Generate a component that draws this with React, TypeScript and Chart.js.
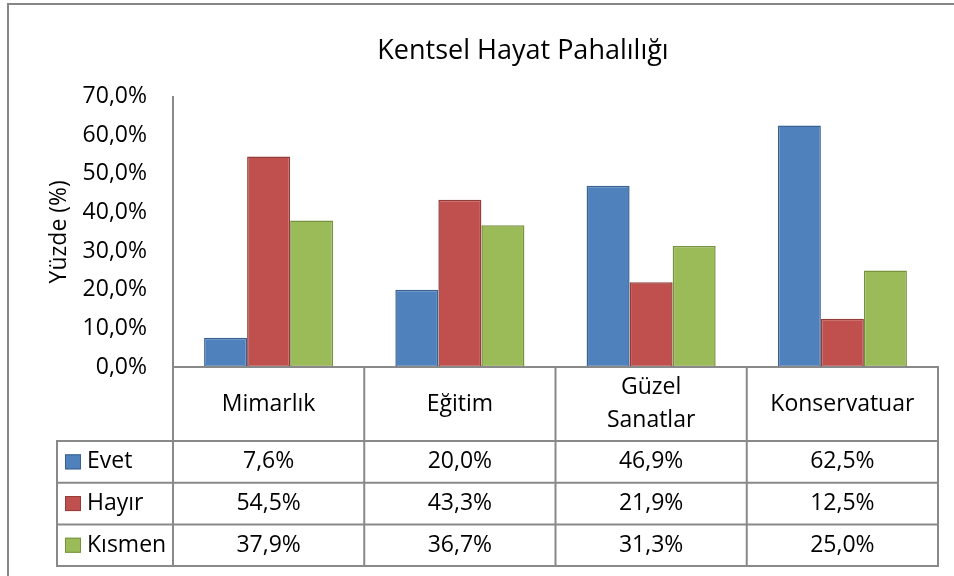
import React, { useEffect, useRef } from 'react';
import { Chart, registerables } from 'chart.js';

Chart.register(...registerables);

const chartTitle = 'Kentsel Hayat Pahalılığı';
const yAxisTitle = 'Yüzde (%)';
const categories = ['Mimarlık', 'Eğitim', 'Güzel Sanatlar', 'Konservatuar'];
const categoryHeaderLines = [['Mimarlık'], ['Eğitim'], ['Güzel', 'Sanatlar'], ['Konservatuar']];
const seriesNames = ['Evet', 'Hayır', 'Kısmen'];
const evetValues = [7.6, 20.0, 46.9, 62.5];
const hayirValues = [54.5, 43.3, 21.9, 12.5];
const kismenValues = [37.9, 36.7, 31.3, 25.0];
const yMin = 0;
const yMax = 70;
const yStep = 10;

const fills = ['#4F81BD', '#C0504D', '#9BBB59'];
const borders = ['#3A6290', '#943C3A', '#76923F'];
const FONT = "'Open Sans', 'DejaVu Sans', sans-serif";
const GRAY = '#898989';

const fmt = (v: number) => v.toFixed(1).replace('.', ',') + '%';

const tablePlugin = {
  id: 'excelTable',
  beforeDraw(chart: any) {
    const ctx = chart.ctx;
    ctx.save();
    ctx.fillStyle = '#ffffff';
    ctx.fillRect(0, 0, chart.width, chart.height);
    ctx.strokeStyle = '#878787';
    ctx.lineWidth = 2;
    ctx.beginPath();
    ctx.moveTo(8, chart.height);
    ctx.lineTo(8, 4);
    ctx.lineTo(chart.width, 4);
    ctx.stroke();
    // chart title
    ctx.fillStyle = '#000000';
    ctx.font = `27px ${FONT}`;
    ctx.textAlign = 'center';
    ctx.textBaseline = 'middle';
    ctx.fillText(chartTitle, 523, 51);
    ctx.restore();
  },
  afterDraw(chart: any) {
    const ctx = chart.ctx;
    const { left, right, bottom } = chart.chartArea;
    const xs = chart.scales.x;
    const n = categories.length;
    const colW = (right - left) / n;
    const headerBottom = bottom + 74;
    const rowH = 41.7;
    const rows = chart.data.datasets.length;
    const tableBottom = headerBottom + rowH * rows;
    const legendLeft = 57;

    ctx.save();
    ctx.strokeStyle = GRAY;
    ctx.lineWidth = 2;
    const line = (x1: number, y1: number, x2: number, y2: number) => {
      ctx.beginPath();
      ctx.moveTo(x1, y1);
      ctx.lineTo(x2, y2);
      ctx.stroke();
    };
    line(left, bottom, right + 1, bottom);
    for (let r = 0; r <= rows; r++) {
      const y = headerBottom + r * rowH;
      line(legendLeft - 1, y, right + 1, y);
    }
    line(legendLeft, headerBottom, legendLeft, tableBottom);
    for (let i = 0; i <= n; i++) {
      const xx = left + i * colW;
      line(xx, bottom, xx, tableBottom);
    }

    ctx.fillStyle = '#000000';
    ctx.font = `23px ${FONT}`;
    ctx.textAlign = 'center';
    ctx.textBaseline = 'middle';
    const headerMid = bottom + 37;
    categoryHeaderLines.forEach((lines, i) => {
      const cx = xs.getPixelForValue(i);
      const lh = 33;
      const start = headerMid - ((lines.length - 1) * lh) / 2;
      lines.forEach((t, k) => ctx.fillText(t, cx, start + k * lh));
    });

    chart.data.datasets.forEach((ds: any, r: number) => {
      const cy = headerBottom + r * rowH + rowH / 2;
      ctx.fillStyle = ds.backgroundColor;
      ctx.fillRect(65, cy - 7.5, 16, 15);
      ctx.strokeStyle = ds.borderColor;
      ctx.lineWidth = 1;
      ctx.strokeRect(65.5, cy - 7, 15, 14);
      ctx.fillStyle = '#000000';
      ctx.textAlign = 'left';
      ctx.fillText(ds.label, 87, cy);
      ctx.textAlign = 'center';
      ds.data.forEach((v: number, i: number) => {
        ctx.fillText(fmt(v), xs.getPixelForValue(i), cy);
      });
    });
    ctx.restore();
  },
};

export default function App() {
  const ref = useRef<HTMLCanvasElement | null>(null);
  useEffect(() => {
    if (!ref.current) return;
    const seriesValues = [evetValues, hayirValues, kismenValues];
    const chart = new Chart(ref.current, {
      type: 'bar',
      data: {
        labels: categories,
        datasets: seriesNames.map((name, i) => ({
          label: name,
          data: seriesValues[i],
          backgroundColor: fills[i],
          borderColor: borders[i],
          borderWidth: 1.5,
          borderSkipped: false,
          barPercentage: 1,
          categoryPercentage: 0.675,
        })),
      },
      options: {
        responsive: false,
        animation: false,
        layout: { padding: { left: 0, right: 16, top: 96.5, bottom: 0 } },
        plugins: {
          legend: { display: false },
          tooltip: { enabled: false },
          title: { display: false },
        },
        scales: {
          x: {
            grid: { display: false, drawTicks: false },
            border: { display: true, color: GRAY, width: 2 },
            ticks: { display: false },
            afterFit: (s: any) => {
              s.height = 209;
            },
          },
          y: {
            min: yMin,
            max: yMax,
            grid: { display: false, drawTicks: false },
            border: { display: true, color: GRAY, width: 2 },
            ticks: {
              stepSize: yStep,
              padding: 26,
              color: '#000000',
              font: { family: FONT, size: 23 },
              callback: (v: any) => fmt(Number(v)),
            },
            title: {
              display: true,
              text: yAxisTitle,
              color: '#000000',
              font: { family: FONT, size: 23 },
              padding: { top: 46, bottom: 0 },
            },
            afterFit: (s: any) => {
              s.width = 173;
            },
          },
        },
      },
      plugins: [tablePlugin],
    });
    return () => chart.destroy();
  }, []);
  return (
    <div style={{ position: 'fixed', left: 0, top: 0, width: 954, height: 576, background: '#fff' }}>
      <canvas ref={ref} width={954} height={576} style={{ display: 'block', width: 954, height: 576 }} />
    </div>
  );
}
